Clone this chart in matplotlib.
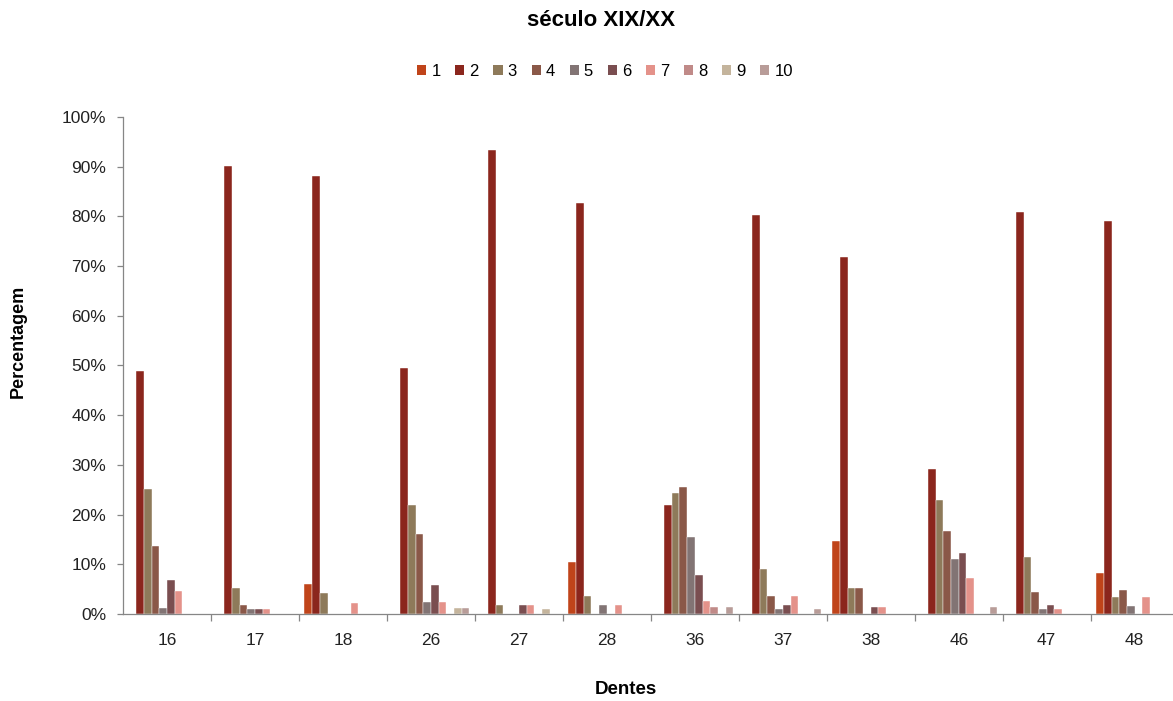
import numpy as np
import matplotlib as mpl
mpl.use('Agg')
import matplotlib.pyplot as plt
from matplotlib.patches import Patch
from matplotlib.ticker import FuncFormatter, FixedLocator

plt.rcParams['font.family'] = ['Liberation Sans', 'DejaVu Sans']

# teeth on the x axis
dentes = ['16', '17', '18', '26', '27', '28', '36', '37', '38', '46', '47', '48']
series_names = ['1', '2', '3', '4', '5', '6', '7', '8', '9', '10']

# percentage per series (rows = series 1..10, columns = teeth)
s1 = [0, 0, 6.0, 0, 0, 10.5, 0, 0, 14.6, 0, 0, 8.3]
s2 = [48.9, 90.2, 88.1, 49.4, 93.4, 82.7, 21.9, 80.2, 71.9, 29.1, 80.9, 79.0]
s3 = [25.2, 5.3, 4.2, 21.9, 1.9, 3.6, 24.4, 9.0, 5.3, 22.9, 11.4, 3.4]
s4 = [13.6, 1.9, 0, 16.1, 0, 0, 25.6, 3.6, 5.3, 16.8, 4.4, 4.8]
s5 = [1.2, 1.0, 0, 2.4, 0, 1.9, 15.4, 0.95, 0, 11.0, 0.95, 1.7]
s6 = [6.8, 1.0, 0, 5.8, 1.9, 0, 7.8, 1.9, 1.4, 12.2, 1.9, 0]
s7 = [4.6, 1.0, 2.2, 2.4, 1.9, 1.9, 2.6, 3.6, 1.4, 7.3, 0.95, 3.4]
s8 = [0, 0, 0, 0, 0, 0, 1.4, 0, 0, 0, 0, 0]
s9 = [0, 0, 0, 1.15, 0.95, 0, 0, 0, 0, 0, 0, 0]
s10 = [0, 0, 0, 1.15, 0, 0, 1.4, 0.95, 0, 1.4, 0, 0]
series = [s1, s2, s3, s4, s5, s6, s7, s8, s9, s10]

colors = ['#C0441A', '#8B261D', '#8E7A5A', '#8A5848', '#827474',
          '#7A4E50', '#E4928A', '#C08A88', '#C4B49C', '#B89C98']

GRAY = '#868686'

fig = plt.figure(figsize=(11.73, 7.01), dpi=100)
ax = fig.add_axes([123/1173., 87/701., 1055.7/1173., 497/701.])

x = np.arange(len(dentes))
w = 0.0875
for i, vals in enumerate(series):
    ax.bar(x + (i - 4.5) * w, vals, width=w, color=colors[i],
           edgecolor='white', linewidth=0.3, label=series_names[i])

ax.set_xlim(-0.5, len(dentes) - 0.5)
ax.set_ylim(0, 100)

ax.set_yticks(np.arange(0, 101, 10))
ax.yaxis.set_major_formatter(FuncFormatter(lambda v, p: '%d%%' % v))
ax.set_xticks(x)
ax.set_xticklabels(dentes)
ax.xaxis.set_minor_locator(FixedLocator(np.arange(0.5, len(dentes), 1)))

for s in ['top', 'right']:
    ax.spines[s].set_visible(False)
for s in ['left', 'bottom']:
    ax.spines[s].set_color(GRAY)
    ax.spines[s].set_linewidth(0.9)

ax.tick_params(axis='y', direction='out', length=4, width=0.9, color=GRAY,
               labelsize=12.5, pad=8, labelcolor='#222222')
ax.tick_params(axis='x', which='major', length=0, labelsize=12.5, pad=14,
               labelcolor='#222222')
ax.tick_params(axis='x', which='minor', direction='out', length=5, width=0.9,
               color=GRAY)

fig.text(601/1173., 1 - 20/701., 'século XIX/XX', ha='center', va='center',
         fontsize=16, fontweight='bold')
fig.text(18/1173., 1 - 341/701., 'Percentagem', rotation=90, ha='center',
         va='center', fontsize=13, fontweight='bold')
fig.text(626/1173., 1 - 690/701., 'Dentes', ha='center', va='center',
         fontsize=13.5, fontweight='bold')

handles = [Patch(facecolor=c, edgecolor='none') for c in colors]
fig.legend(handles, series_names, loc='center', ncol=10,
           bbox_to_anchor=(605/1173., 1 - 71/701.), frameon=False,
           fontsize=12, handlelength=0.55, handleheight=0.55,
           handletextpad=0.3, columnspacing=0.88)

fig.savefig('out.png', dpi=100)
